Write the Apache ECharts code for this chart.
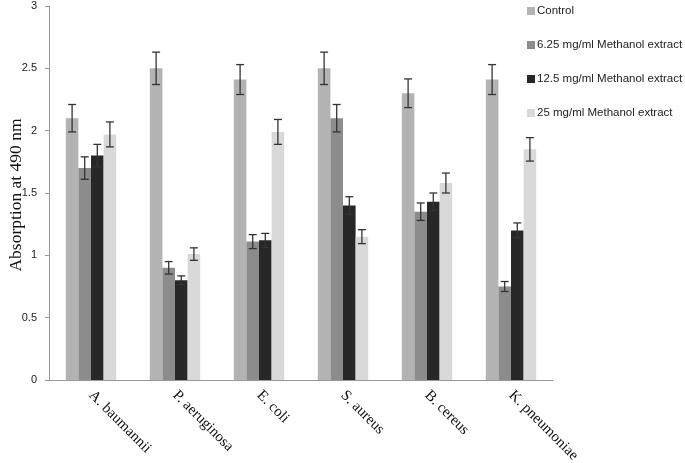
<!DOCTYPE html>
<html>
<head>
<meta charset="utf-8">
<script src="https://cdn.jsdelivr.net/npm/echarts@6/dist/echarts.min.js"></script>
<style>html,body{margin:0;padding:0;background:#fff}#c{width:685px;height:463px}</style>
</head>
<body>
<div id="c"></div>
<script>
const categories = ['A. baumannii', 'P. aeruginosa', 'E. coli', 'S. aureus', 'B. cereus', 'K. pneumoniae'];
const seriesNames = ['Control', '6.25 mg/ml Methanol extract', '12.5 mg/ml Methanol extract', '25 mg/ml Methanol extract'];
const yAxisTitle = 'Absorption at 490 nm';
const control = [2.10, 2.50, 2.41, 2.50, 2.30, 2.41];
const conc625 = [1.70, 0.90, 1.11, 2.10, 1.35, 0.75];
const conc125 = [1.80, 0.80, 1.12, 1.40, 1.43, 1.20];
const conc25 = [1.97, 1.01, 1.99, 1.15, 1.58, 1.85];
const errControl = [0.11, 0.13, 0.12, 0.13, 0.115, 0.12];
const err625 = [0.09, 0.05, 0.056, 0.11, 0.07, 0.04];
const err125 = [0.09, 0.035, 0.056, 0.07, 0.07, 0.06];
const err25 = [0.10, 0.05, 0.10, 0.056, 0.08, 0.094];
const yTicks = [0, 0.5, 1, 1.5, 2, 2.5, 3];

const values = [control, conc625, conc125, conc25];
const errors = [errControl, err625, err125, err25];
const colors = ['#b3b3b3', '#8c8c8c', '#272727', '#d9d9d9'];
const catGap = 0.4;

const series = [];
values.forEach((v, i) => {
  series.push({
    name: seriesNames[i], type: 'bar', data: v, barGap: '0%', barCategoryGap: '40%',
    itemStyle: { color: colors[i] }, emphasis: { disabled: true }
  });
});
values.forEach((v, i) => {
  series.push({
    type: 'custom', silent: true, z: 10,
    data: v.map((val, k) => [k, val, errors[i][k]]),
    renderItem: function (params, api) {
      const k = api.value(0), val = api.value(1), e = api.value(2);
      const band = api.size([1, 0])[0];
      const bw = band * (1 - catGap) / 4;
      const cx = api.coord([k, 0])[0] + (i - 1.5) * bw;
      const yTop = api.coord([k, val + e])[1];
      const yBot = api.coord([k, val - e])[1];
      const hw = 4;
      const style = { stroke: '#333', lineWidth: 1.3 };
      return { type: 'group', children: [
        { type: 'line', shape: { x1: cx, y1: yTop, x2: cx, y2: yBot }, style: style },
        { type: 'line', shape: { x1: cx - hw, y1: yTop, x2: cx + hw, y2: yTop }, style: style },
        { type: 'line', shape: { x1: cx - hw, y1: yBot, x2: cx + hw, y2: yBot }, style: style }
      ]};
    }
  });
});

const chart = echarts.init(document.getElementById('c'));
chart.setOption({
  animation: false,
  backgroundColor: '#fff',
  grid: { left: 49, right: 132, top: 6, bottom: 83, containLabel: false, outerBoundsMode: 'none' },
  graphic: [{
    type: 'text', x: 16, y: 195, rotation: Math.PI / 2, silent: true,
    style: { text: yAxisTitle, fontFamily: 'Liberation Serif', fontSize: 17.5, fill: '#111',
      textAlign: 'center', textVerticalAlign: 'middle' }
  }],
  legend: {
    orient: 'vertical', left: 522, top: 0,
    data: seriesNames, itemWidth: 8, itemHeight: 8, itemGap: 22, icon: 'rect',
    textStyle: { fontFamily: 'Liberation Sans', fontSize: 11.5, color: '#222', padding: [0, 0, 0, -3] },
    selectedMode: false
  },
  xAxis: {
    type: 'category', data: categories,
    axisLine: { lineStyle: { color: '#999' } },
    axisTick: { length: 5, lineStyle: { color: '#999' } },
    axisLabel: { rotate: -45, fontFamily: 'Liberation Serif', fontSize: 15, color: '#111', margin: 13 }
  },
  yAxis: {
    type: 'value', min: 0, max: 3, interval: 0.5,
    axisLine: { show: true, lineStyle: { color: '#999' } },
    axisTick: { show: true, length: 4, lineStyle: { color: '#999' } },
    splitLine: { show: false },
    axisLabel: { fontFamily: 'Liberation Sans', fontSize: 11, color: '#222', margin: 12,
      formatter: v => (yTicks.indexOf(v) >= 0 ? String(v) : '') }
  },
  series: series
});
</script>
</body>
</html>
